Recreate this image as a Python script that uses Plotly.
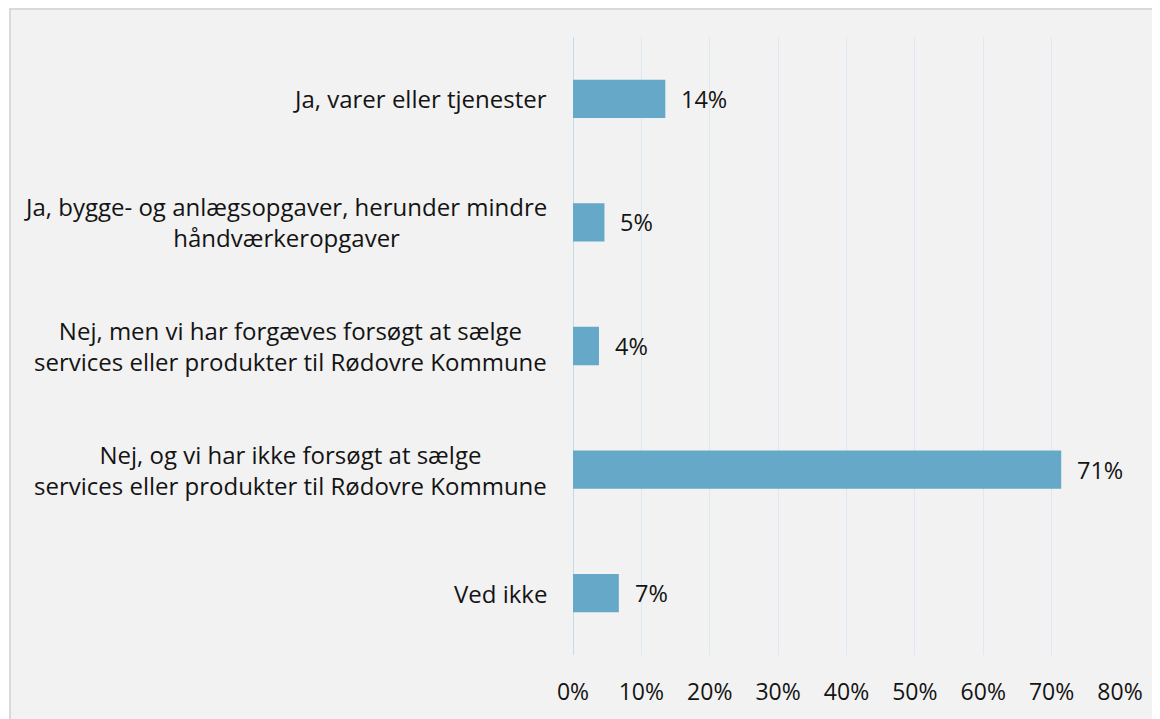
import plotly.graph_objects as go

categories = [
    "Ja, varer eller tjenester",
    "Ja, bygge- og anlægsopgaver, herunder mindre<br>håndværkeropgaver",
    "Nej, men vi har forgæves forsøgt at sælge<br>services eller produkter til Rødovre Kommune",
    "Nej, og vi har ikke forsøgt at sælge<br>services eller produkter til Rødovre Kommune",
    "Ved ikke",
]
values = [13.5, 4.6, 3.8, 71.4, 6.7]
tick_vals = [0, 10, 20, 30, 40, 50, 60, 70, 80]
tick_text = ["0%", "10%", "20%", "30%", "40%", "50%", "60%", "70%", "80%"]

FONT = "Open Sans"
TXT = "#141414"

ypos = list(range(len(categories)))

fig = go.Figure()
fig.add_trace(go.Bar(
    x=values, y=ypos, orientation="h",
    marker=dict(color="#65a8c8", line=dict(width=0)),
    hoverinfo="skip",
))

annotations = []
for i, label in enumerate(categories):
    annotations.append(dict(
        text=label, xref="paper", x=0, xanchor="right", xshift=-24,
        yref="y", y=i, yanchor="middle",
        showarrow=False, align="center",
        font=dict(family=FONT, size=24, color=TXT),
    ))
for i, v in enumerate(values):
    annotations.append(dict(
        text=f"{round(v)}%", xref="x", x=v, xanchor="left", xshift=14,
        yref="y", y=i, yanchor="middle",
        showarrow=False,
        font=dict(family=FONT, size=23.5, color=TXT),
    ))

W, H = 1152, 711
L, R, T, B = 565, 40, 29, 62
pw, ph = W - L - R, H - T - B

fig.update_layout(
    width=W, height=H,
    paper_bgcolor="white",
    plot_bgcolor="#f2f2f2",
    margin=dict(l=L, r=R, t=T, b=B),
    bargap=0.69,
    showlegend=False,
    annotations=annotations,
    shapes=[dict(type="rect", xref="paper", yref="paper",
                 x0=-(L - 2) / pw, x1=1 + (R + 10) / pw,
                 y0=-(B + 10) / ph, y1=1 + (T - 1) / ph,
                 fillcolor="#f2f2f2", line=dict(color="#d9d9d9", width=2),
                 layer="below")],
    font=dict(family=FONT, size=23, color=TXT),
)
fig.update_xaxes(
    range=[0, 80], tickvals=tick_vals, ticktext=tick_text,
    showgrid=True, gridcolor="#dce9f2", gridwidth=1,
    zeroline=False, showline=False, ticks="", ticklabelstandoff=21,
    tickfont=dict(family=FONT, size=23, color=TXT),
)
fig.update_yaxes(
    range=[len(categories) - 0.5, -0.5], showticklabels=False,
    showgrid=False, zeroline=False, showline=False,
)
fig.add_vline(x=0, line=dict(color="#c3dbea", width=2), layer="below")

fig.write_html("out.html")
